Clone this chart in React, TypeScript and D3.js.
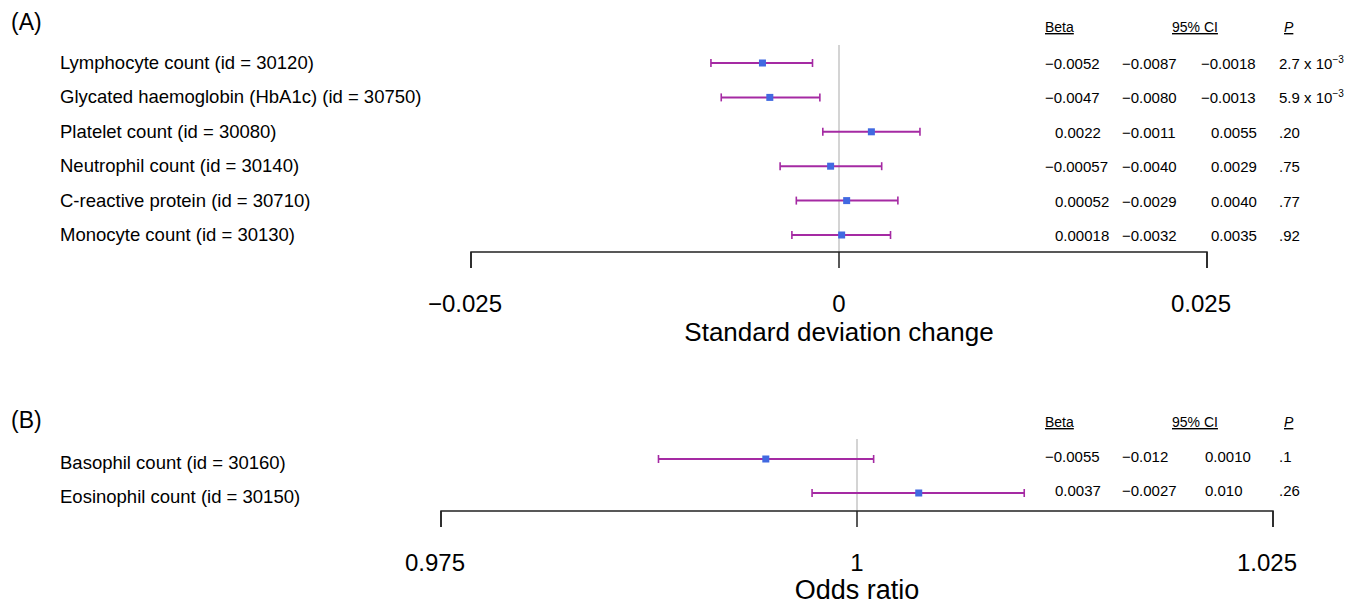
import React, { useEffect, useRef } from 'react';
import * as d3 from 'd3';

// Panel A: continuous traits (SD change)
const labelsA = [
  'Lymphocyte count (id = 30120)',
  'Glycated haemoglobin (HbA1c) (id = 30750)',
  'Platelet count (id = 30080)',
  'Neutrophil count (id = 30140)',
  'C-reactive protein (id = 30710)',
  'Monocyte count (id = 30130)',
];
const betaA = [-0.0052, -0.0047, 0.0022, -0.00057, 0.00052, 0.00018];
const lowA = [-0.0087, -0.008, -0.0011, -0.004, -0.0029, -0.0032];
const highA = [-0.0018, -0.0013, 0.0055, 0.0029, 0.004, 0.0035];
const betaTxtA = ['−0.0052', '−0.0047', '0.0022', '−0.00057', '0.00052', '0.00018'];
const lowTxtA = ['−0.0087', '−0.0080', '−0.0011', '−0.0040', '−0.0029', '−0.0032'];
const highTxtA = ['−0.0018', '−0.0013', '0.0055', '0.0029', '0.0040', '0.0035'];
const pTxtA = [['2.7 x 10', '−3'], ['5.9 x 10', '−3'], ['.20'], ['.75'], ['.77'], ['.92']];
const ticksA = [-0.025, 0, 0.025];
const tickTxtA = ['−0.025', '0', '0.025'];

// Panel B: binary traits (odds ratio)
const labelsB = ['Basophil count (id = 30160)', 'Eosinophil count (id = 30150)'];
const orB = [0.99452, 1.00371];
const orLowB = [0.98807, 0.9973];
const orHighB = [1.001, 1.01005];
const betaTxtB = ['−0.0055', '0.0037'];
const lowTxtB = ['−0.012', '−0.0027'];
const highTxtB = ['0.0010', '0.010'];
const pTxtB = [['.1'], ['.26']];
const ticksB = [0.975, 1, 1.025];
const tickTxtB = ['0.975', '1', '1.025'];

const FONT = '"Liberation Sans", Arial, Helvetica, sans-serif';

const App = () => {
  const svgRef = useRef<SVGSVGElement>(null);

  useEffect(() => {
    const svg = d3.select(svgRef.current);
    svg.selectAll('*').remove();
    svg.attr('font-family', FONT);

    const drawPanel = (opt: any) => {
      const g = svg.append('g');
      const x = d3.scaleLinear().domain(opt.domain).range(opt.xRange);
      const y = d3.scalePoint<number>()
        .domain(d3.range(opt.labels.length))
        .range(opt.yRange);

      // panel tag
      g.append('text')
        .attr('x', 11).attr('y', opt.tagY)
        .attr('font-size', 23)
        .text(opt.tag);

      // reference line
      g.append('line')
        .attr('x1', x(opt.ref)).attr('x2', x(opt.ref))
        .attr('y1', opt.refTop).attr('y2', opt.axisY)
        .attr('stroke', '#d4d4d4').attr('stroke-width', 2);

      // row labels
      g.selectAll('.lab').data(opt.labels).enter().append('text')
        .attr('x', 60)
        .attr('y', (d: string, i: number) => (y(i) as number) + opt.labelDy)
        .attr('font-size', 18.5)
        .text((d: string) => d);

      // error bars
      const rows = g.selectAll('.row').data(opt.est).enter().append('g');
      rows.append('line')
        .attr('x1', (d: number, i: number) => x(opt.low[i]))
        .attr('x2', (d: number, i: number) => x(opt.high[i]))
        .attr('y1', (d: number, i: number) => y(i) as number)
        .attr('y2', (d: number, i: number) => y(i) as number)
        .attr('stroke', '#a52aa3').attr('stroke-width', 2);
      [opt.low, opt.high].forEach((arr: number[]) => {
        rows.append('line')
          .attr('x1', (d: number, i: number) => x(arr[i]))
          .attr('x2', (d: number, i: number) => x(arr[i]))
          .attr('y1', (d: number, i: number) => (y(i) as number) - 4)
          .attr('y2', (d: number, i: number) => (y(i) as number) + 4)
          .attr('stroke', '#a52aa3').attr('stroke-width', 1.6);
      });
      rows.append('rect')
        .attr('x', (d: number) => x(d) - 3.5)
        .attr('y', (d: number, i: number) => (y(i) as number) - 3.5)
        .attr('width', 7).attr('height', 7)
        .attr('fill', '#4169e1');

      // axis (bracket style)
      const [x0, x1] = opt.xRange;
      g.append('path')
        .attr('d', `M${x0},${opt.axisY + 16}V${opt.axisY}H${x1}V${opt.axisY + 16}`)
        .attr('fill', 'none').attr('stroke', '#222').attr('stroke-width', 1.5);
      g.selectAll('.tk').data(opt.ticks).enter().append('line')
        .attr('x1', (d: number) => x(d)).attr('x2', (d: number) => x(d))
        .attr('y1', opt.axisY).attr('y2', opt.axisY + 16)
        .attr('stroke', '#222').attr('stroke-width', 1.5);
      g.selectAll('.tl').data(opt.ticks).enter().append('text')
        .attr('x', (d: number) => x(d))
        .attr('dx', (d: number) => (d === opt.ref ? 0 : -6))
        .attr('y', opt.axisY + opt.tickDy)
        .attr('text-anchor', 'middle')
        .attr('font-size', 24)
        .text((d: number, i: number) => opt.tickTxt[i]);
      g.append('text')
        .attr('x', x(opt.ref))
        .attr('y', opt.axisY + opt.titleDy)
        .attr('text-anchor', 'middle')
        .attr('font-size', opt.titleSize)
        .text(opt.title);

      // table
      const hy = opt.headY;
      const head = [
        { t: 'Beta', x: 1045, it: false },
        { t: '95% CI', x: 1172, it: false },
        { t: 'P', x: 1284, it: true },
      ];
      g.selectAll('.hd').data(head).enter().append('text')
        .attr('x', (d: any) => d.x).attr('y', hy)
        .attr('font-size', 14)
        .attr('font-style', (d: any) => (d.it ? 'italic' : 'normal'))
        .style('text-decoration', 'underline')
        .text((d: any) => d.t);

      const cols = [
        { txt: opt.betaTxt, x: 1045 },
        { txt: opt.lowTxt, x: 1122 },
        { txt: opt.highTxt, x: opt.hiX },
      ];
      cols.forEach((c) => {
        g.selectAll(null).data(c.txt).enter().append('text')
          .attr('x', (d: string) => c.x + (d.startsWith('−') ? 0 : 10))
          .attr('y', (d: string, i: number) => (y(i) as number) + opt.tableDy)
          .attr('font-size', 15)
          .text((d: string) => d);
      });
      const pt = g.selectAll(null).data(opt.pTxt).enter().append('text')
        .attr('x', 1279)
        .attr('y', (d: string[], i: number) => (y(i) as number) + opt.tableDy)
        .attr('font-size', 15);
      pt.append('tspan').text((d: string[]) => d[0]);
      pt.filter((d: string[]) => d.length > 1).append('tspan')
        .attr('dy', -6).attr('font-size', 10)
        .text((d: string[]) => d[1]);
    };

    drawPanel({
      tag: '(A)', tagY: 30,
      labels: labelsA, est: betaA, low: lowA, high: highA,
      domain: [-0.025, 0.025], xRange: [471, 1207], yRange: [63, 235],
      ref: 0, refTop: 45, axisY: 252,
      ticks: ticksA, tickTxt: tickTxtA, tickDy: 60, titleDy: 89,
      title: 'Standard deviation change', titleSize: 26,
      labelDy: 6, tableDy: 6, headY: 32, hiX: 1201,
      betaTxt: betaTxtA, lowTxt: lowTxtA, highTxt: highTxtA, pTxt: pTxtA,
    });

    drawPanel({
      tag: '(B)', tagY: 428,
      labels: labelsB, est: orB, low: orLowB, high: orHighB,
      domain: [0.975, 1.025], xRange: [441, 1273], yRange: [459, 493],
      ref: 1, refTop: 439, axisY: 511,
      ticks: ticksB, tickTxt: tickTxtB, tickDy: 60, titleDy: 88,
      title: 'Odds ratio', titleSize: 27,
      labelDy: 10, tableDy: 3, headY: 427, hiX: 1195,
      betaTxt: betaTxtB, lowTxt: lowTxtB, highTxt: highTxtB, pTxt: pTxtB,
    });
  }, []);

  return (
    <svg
      ref={svgRef}
      width={1362}
      height={604}
      style={{ position: 'absolute', left: 0, top: 0, background: '#fff' }}
    />
  );
};

export default App;
